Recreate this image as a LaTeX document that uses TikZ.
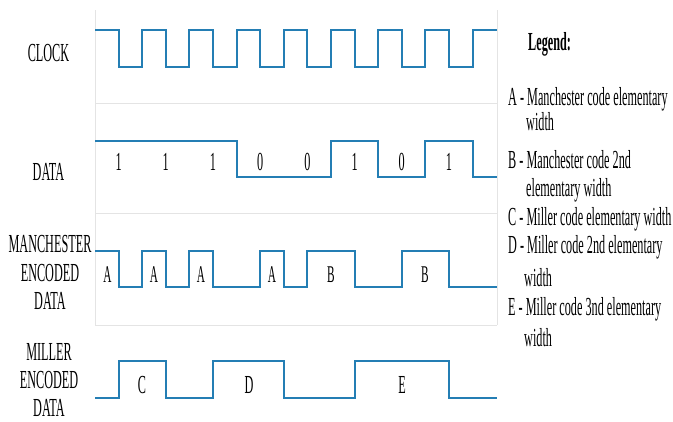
\documentclass[tikz,border=0pt]{standalone}
\usepackage{fontspec}
\setmainfont[FakeStretch=0.47]{Liberation Serif}
\definecolor{sig}{RGB}{36,126,180}
\definecolor{framegrey}{RGB}{228,228,228}
\begin{document}
\begin{tikzpicture}[x=1pt,y=-1pt,
  sigline/.style={draw=sig,line width=2pt,line join=miter},
  frameline/.style={draw=framegrey,line width=1pt},
  lbl/.style={inner sep=0pt,font=\fontsize{26}{28.5}\selectfont,align=center},
  bit/.style={inner sep=0pt,font=\fontsize{26}{29}\selectfont,anchor=base},
  code/.style={inner sep=0pt,font=\fontsize{24}{27}\selectfont,anchor=base},
  leg/.style={inner sep=0pt,font=\fontsize{26}{29}\selectfont,anchor=base west}]
\useasboundingbox (0,0) rectangle (673,421);
% frame
\draw[frameline] (95,10) -- (95,325);
\draw[frameline] (497,10) -- (497,325);
\draw[frameline] (95,103) -- (497,103);
\draw[frameline] (95,213) -- (497,213);
\draw[frameline] (95,325) -- (497,325);
% clock
\draw[sigline] (95,30) -| (118.6,67) -| (142.2,30) -| (165.8,67) -| (189.4,30)
  -| (213,67) -| (236.6,30) -| (260.2,67) -| (283.8,30) -| (307.4,67)
  -| (331,30) -| (354.6,67) -| (378.2,30) -| (401.8,67) -| (425.4,30)
  -| (449,67) -| (472.6,30) -- (497,30);
% data
\draw[sigline] (95,141) -| (236.6,177) -| (331,141) -| (378.2,177)
  -| (425.4,141) -| (472.6,177) -- (497,177);
% manchester
\draw[sigline] (95,251) -| (118.6,287) -| (142.2,251) -| (165.8,287)
  -| (189.4,251) -| (213,287) -| (260.2,251) -| (283.8,287)
  -| (307.4,251) -| (354.6,287) -| (401.8,251) -| (449,287) -- (497,287);
% miller
\draw[sigline] (95,398) -| (118.6,361) -| (165.8,398) -| (213,361)
  -| (283.8,398) -| (354.6,361) -| (449,398) -- (497,398);
% row labels
\node[lbl,anchor=base] (lclk) at (48.5,61.5) {CLOCK};
\node[lbl,anchor=base] (ldat) at (48.5,180) {DATA};
\node[lbl] (lman) at (50,272.5) {MANCHESTER\\ENCODED\\DATA};
\node[lbl,font=\fontsize{26}{28}\selectfont] (lmil) at (49,380) {MILLER\\ENCODED\\DATA};
% bits
\node[bit] (b1) at (118.6,170) {1};
\node[bit] (b2) at (165.8,170) {1};
\node[bit] (b3) at (213,170) {1};
\node[bit] (b4) at (260.2,170) {0};
\node[bit] (b5) at (307.4,170) {0};
\node[bit] (b6) at (354.6,170) {1};
\node[bit] (b7) at (401.8,170) {0};
\node[bit] (b8) at (449,170) {1};
% manchester widths
\node[code] (ma1) at (107.5,282) {A};
\node[code] (ma2) at (154,282) {A};
\node[code] (ma3) at (201,282) {A};
\node[code] (ma4) at (272,282) {A};
\node[code] (mb1) at (331,282) {B};
\node[code] (mb2) at (425,282) {B};
% miller widths
\node[bit] (mc) at (142,393) {C};
\node[bit] (md) at (249,393) {D};
\node[bit] (me) at (402,393) {E};
% legend
\node[leg,font=\fontsize{26}{29}\selectfont\bfseries] (legt) at (528,50) {Legend:};
\node[leg] (la1) at (508,105) {A - Manchester code elementary};
\node[leg] (la2) at (526,130) {width};
\node[leg] (lb1) at (508,168) {B - Manchester code 2nd};
\node[leg] (lb2) at (526,196) {elementary width};
\node[leg] (lc1) at (508,225) {C - Miller code elementary width};
\node[leg] (ld1) at (508,253) {D - Miller code 2nd elementary};
\node[leg] (ld2) at (524,286) {width};
\node[leg] (le1) at (508,315) {E - Miller code 3nd elementary};
\node[leg] (le2) at (524,346) {width};
\end{tikzpicture}
\end{document}
